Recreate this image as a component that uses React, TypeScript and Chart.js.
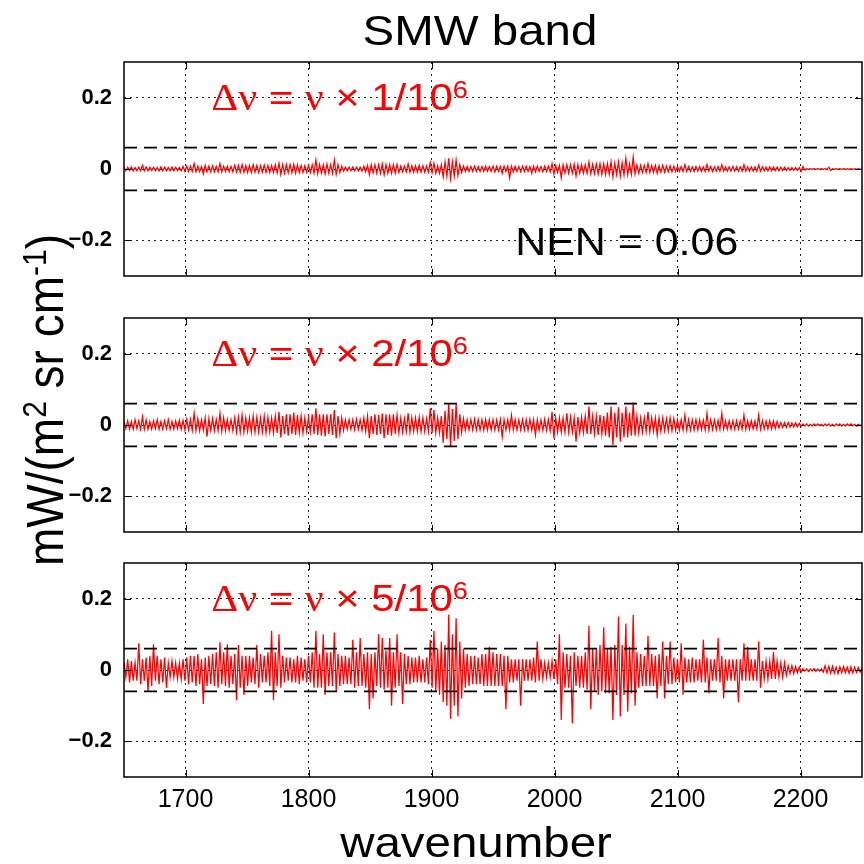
import { useEffect, useRef } from 'react';
import { Chart, registerables } from 'chart.js';
Chart.register(...registerables);

// ---------- data ----------
// sampling grid A (cm-1)
const WAVENUMBER = [
  1650, 1653, 1656, 1659, 1662, 1665, 1668, 1671, 1674, 1677,
  1680, 1683, 1686, 1689, 1692, 1695, 1698, 1701, 1704, 1707,
  1710, 1713, 1716, 1719, 1722, 1725, 1728, 1731, 1734, 1737,
  1740, 1743, 1746, 1749, 1752, 1755, 1758, 1761, 1764, 1767,
  1770, 1773, 1776, 1779, 1782, 1785, 1788, 1791, 1794, 1797,
  1800, 1803, 1806, 1809, 1812, 1815, 1818, 1821, 1824, 1827,
  1830, 1833, 1836, 1839, 1842, 1845, 1848, 1851, 1854, 1857,
  1860, 1863, 1866, 1869, 1872, 1875, 1878, 1881, 1884, 1887,
  1890, 1893, 1896, 1899, 1902, 1905, 1908, 1911, 1914, 1917,
  1920, 1923, 1926, 1929, 1932, 1935, 1938, 1941, 1944, 1947,
  1950, 1953, 1956, 1959, 1962, 1965, 1968, 1971, 1974, 1977,
  1980, 1983, 1986, 1989, 1992, 1995, 1998, 2001, 2004, 2007,
  2010, 2013, 2016, 2019, 2022, 2025, 2028, 2031, 2034, 2037,
  2040, 2043, 2046, 2049, 2052, 2055, 2058, 2061, 2064, 2067,
  2070, 2073, 2076, 2079, 2082, 2085, 2088, 2091, 2094, 2097,
  2100, 2103, 2106, 2109, 2112, 2115, 2118, 2121, 2124, 2127,
  2130, 2133, 2136, 2139, 2142, 2145, 2148, 2151, 2154, 2157,
  2160, 2163, 2166, 2169, 2172, 2175, 2178, 2181, 2184, 2187,
  2190, 2193, 2196, 2199, 2202, 2205, 2208, 2211, 2214, 2217,
  2220, 2223, 2226, 2229, 2232, 2235, 2238, 2241, 2244, 2247,
  2250,
];

// sampling grid B (cm-1), interleaved with grid A
const WAVENUMBER_MID = [
  1651.5, 1654.5, 1657.5, 1660.5, 1663.5, 1666.5, 1669.5, 1672.5, 1675.5, 1678.5,
  1681.5, 1684.5, 1687.5, 1690.5, 1693.5, 1696.5, 1699.5, 1702.5, 1705.5, 1708.5,
  1711.5, 1714.5, 1717.5, 1720.5, 1723.5, 1726.5, 1729.5, 1732.5, 1735.5, 1738.5,
  1741.5, 1744.5, 1747.5, 1750.5, 1753.5, 1756.5, 1759.5, 1762.5, 1765.5, 1768.5,
  1771.5, 1774.5, 1777.5, 1780.5, 1783.5, 1786.5, 1789.5, 1792.5, 1795.5, 1798.5,
  1801.5, 1804.5, 1807.5, 1810.5, 1813.5, 1816.5, 1819.5, 1822.5, 1825.5, 1828.5,
  1831.5, 1834.5, 1837.5, 1840.5, 1843.5, 1846.5, 1849.5, 1852.5, 1855.5, 1858.5,
  1861.5, 1864.5, 1867.5, 1870.5, 1873.5, 1876.5, 1879.5, 1882.5, 1885.5, 1888.5,
  1891.5, 1894.5, 1897.5, 1900.5, 1903.5, 1906.5, 1909.5, 1912.5, 1915.5, 1918.5,
  1921.5, 1924.5, 1927.5, 1930.5, 1933.5, 1936.5, 1939.5, 1942.5, 1945.5, 1948.5,
  1951.5, 1954.5, 1957.5, 1960.5, 1963.5, 1966.5, 1969.5, 1972.5, 1975.5, 1978.5,
  1981.5, 1984.5, 1987.5, 1990.5, 1993.5, 1996.5, 1999.5, 2002.5, 2005.5, 2008.5,
  2011.5, 2014.5, 2017.5, 2020.5, 2023.5, 2026.5, 2029.5, 2032.5, 2035.5, 2038.5,
  2041.5, 2044.5, 2047.5, 2050.5, 2053.5, 2056.5, 2059.5, 2062.5, 2065.5, 2068.5,
  2071.5, 2074.5, 2077.5, 2080.5, 2083.5, 2086.5, 2089.5, 2092.5, 2095.5, 2098.5,
  2101.5, 2104.5, 2107.5, 2110.5, 2113.5, 2116.5, 2119.5, 2122.5, 2125.5, 2128.5,
  2131.5, 2134.5, 2137.5, 2140.5, 2143.5, 2146.5, 2149.5, 2152.5, 2155.5, 2158.5,
  2161.5, 2164.5, 2167.5, 2170.5, 2173.5, 2176.5, 2179.5, 2182.5, 2185.5, 2188.5,
  2191.5, 2194.5, 2197.5, 2200.5, 2203.5, 2206.5, 2209.5, 2212.5, 2215.5, 2218.5,
  2221.5, 2224.5, 2227.5, 2230.5, 2233.5, 2236.5, 2239.5, 2242.5, 2245.5, 2248.5,
];

// Δν = ν × 1/10^6  (grid A, grid B)
const NOISE_1 = [
  0.004, 0.005, 0.006, 0.004, 0.005, 0.01, 0.006, 0.005, 0.005, 0.004,
  0.006, 0.005, 0.004, 0.006, 0.005, 0.004, 0.007, 0.008, 0.008, 0.015,
  0.008, 0.007, 0.01, 0.008, 0.009, 0.007, 0.015, 0.008, 0.008, 0.007,
  0.01, 0.01, 0.012, 0.01, 0.01, 0.012, 0.01, 0.009, 0.011, 0.01,
  0.01, 0.012, 0.016, 0.012, 0.012, 0.012, 0.013, 0.012, 0.01, 0.009,
  0.01, 0.012, 0.025, 0.013, 0.012, 0.014, 0.012, 0.025, 0.012, 0.008,
  0.005, 0.005, 0.006, 0.005, 0.005, 0.008, 0.01, 0.012, 0.012, 0.012,
  0.014, 0.012, 0.012, 0.012, 0.013, 0.008, 0.008, 0.014, 0.009, 0.009,
  0.01, 0.009, 0.008, 0.018, 0.016, 0.009, 0.012, 0.02, 0.03, 0.02,
  0.025, 0.012, 0.008, 0.007, 0.007, 0.008, 0.007, 0.007, 0.008, 0.007,
  0.008, 0.008, 0.007, 0.008, 0.008, 0.008, 0.008, 0.007, 0.008, 0.008,
  0.007, 0.008, 0.008, 0.007, 0.008, 0.008, 0.015, 0.01, 0.01, 0.012,
  0.012, 0.012, 0.013, 0.012, 0.012, 0.012, 0.02, 0.013, 0.014, 0.015,
  0.015, 0.016, 0.02, 0.016, 0.02, 0.017, 0.03, 0.015, 0.034, 0.011,
  0.01, 0.01, 0.015, 0.01, 0.01, 0.009, 0.01, 0.008, 0.009, 0.008,
  0.007, 0.007, 0.012, 0.007, 0.006, 0.007, 0.007, 0.006, 0.013, 0.007,
  0.006, 0.007, 0.012, 0.006, 0.006, 0.007, 0.006, 0.006, 0.012, 0.006,
  0.006, 0.006, 0.011, 0.006, 0.005, 0.006, 0.006, 0.005, 0.005, 0.005,
  0.004, 0.004, 0.004, 0.004, 0.007, 0.001, 0.001, 0.001, 0.001, 0.001,
  0.001, 0.005, 0.001, 0.001, 0.001, 0.001, 0.001, 0.001, 0.001, 0.001,
  0,
];
const NOISE_1_MID = [
  -0.005, -0.004, -0.005, -0.005, -0.005, -0.005, -0.005, -0.004, -0.005, -0.005,
  -0.005, -0.005, -0.005, -0.005, -0.004, -0.005, -0.006, -0.007, -0.007, -0.008,
  -0.008, -0.014, -0.008, -0.008, -0.008, -0.008, -0.008, -0.007, -0.008, -0.008,
  -0.009, -0.009, -0.009, -0.01, -0.01, -0.009, -0.01, -0.009, -0.01, -0.01,
  -0.01, -0.011, -0.015, -0.012, -0.011, -0.011, -0.012, -0.01, -0.01, -0.009,
  -0.01, -0.012, -0.013, -0.012, -0.014, -0.012, -0.012, -0.015, -0.01, -0.006,
  -0.005, -0.005, -0.005, -0.005, -0.006, -0.008, -0.016, -0.011, -0.012, -0.012,
  -0.016, -0.012, -0.012, -0.012, -0.01, -0.008, -0.008, -0.009, -0.009, -0.009,
  -0.009, -0.009, -0.009, -0.01, -0.012, -0.012, -0.022, -0.02, -0.026, -0.02,
  -0.018, -0.01, -0.007, -0.007, -0.007, -0.007, -0.007, -0.007, -0.007, -0.007,
  -0.008, -0.007, -0.012, -0.007, -0.025, -0.008, -0.007, -0.008, -0.007, -0.007,
  -0.012, -0.008, -0.007, -0.008, -0.007, -0.008, -0.014, -0.01, -0.025, -0.011,
  -0.012, -0.012, -0.02, -0.012, -0.012, -0.012, -0.013, -0.013, -0.014, -0.015,
  -0.016, -0.015, -0.022, -0.016, -0.02, -0.017, -0.016, -0.015, -0.014, -0.012,
  -0.01, -0.01, -0.01, -0.01, -0.012, -0.009, -0.009, -0.008, -0.008, -0.007,
  -0.007, -0.007, -0.007, -0.007, -0.007, -0.006, -0.007, -0.007, -0.006, -0.007,
  -0.006, -0.006, -0.006, -0.006, -0.006, -0.006, -0.006, -0.006, -0.006, -0.006,
  -0.006, -0.006, -0.006, -0.005, -0.005, -0.005, -0.005, -0.005, -0.004, -0.004,
  -0.004, -0.004, -0.004, -0.007, -0.003, -0.001, -0.001, -0.001, -0.001, -0.001,
  -0.001, -0.004, -0.001, -0.001, -0.001, -0.001, -0.001, -0.001, -0.001, -0.001,
];

// Δν = ν × 2/10^6  (grid A, grid B)
const NOISE_2 = [
  0.01, 0.012, 0.01, 0.015, 0.012, 0.023, 0.014, 0.01, 0.012, 0.015,
  0.01, 0.012, 0.015, 0.01, 0.012, 0.014, 0.013, 0.015, 0.016, 0.033,
  0.018, 0.015, 0.02, 0.018, 0.018, 0.015, 0.033, 0.02, 0.016, 0.015,
  0.02, 0.022, 0.028, 0.02, 0.02, 0.025, 0.022, 0.02, 0.025, 0.022,
  0.02, 0.025, 0.037, 0.025, 0.03, 0.03, 0.035, 0.028, 0.025, 0.02,
  0.02, 0.03, 0.047, 0.03, 0.03, 0.03, 0.03, 0.042, 0.025, 0.02,
  0.015, 0.015, 0.015, 0.016, 0.015, 0.02, 0.025, 0.025, 0.03, 0.028,
  0.032, 0.03, 0.03, 0.03, 0.028, 0.02, 0.018, 0.033, 0.02, 0.02,
  0.022, 0.02, 0.018, 0.047, 0.042, 0.02, 0.025, 0.04, 0.06, 0.045,
  0.058, 0.03, 0.018, 0.015, 0.015, 0.016, 0.015, 0.015, 0.016, 0.015,
  0.015, 0.014, 0.015, 0.015, 0.015, 0.028, 0.015, 0.014, 0.015, 0.015,
  0.016, 0.015, 0.015, 0.014, 0.016, 0.015, 0.037, 0.02, 0.02, 0.02,
  0.033, 0.022, 0.02, 0.022, 0.022, 0.025, 0.052, 0.025, 0.025, 0.028,
  0.025, 0.035, 0.052, 0.035, 0.05, 0.035, 0.052, 0.035, 0.064, 0.025,
  0.02, 0.02, 0.037, 0.02, 0.02, 0.02, 0.02, 0.018, 0.02, 0.018,
  0.015, 0.015, 0.028, 0.015, 0.014, 0.015, 0.015, 0.014, 0.033, 0.015,
  0.014, 0.013, 0.033, 0.012, 0.012, 0.012, 0.012, 0.011, 0.028, 0.012,
  0.012, 0.011, 0.028, 0.012, 0.011, 0.012, 0.012, 0.01, 0.007, 0.007,
  0.007, 0.006, 0.006, 0.005, 0.003, 0.003, 0.002, 0.003, 0.003, 0.002,
  0.003, 0.003, 0.002, 0.003, 0.003, 0.002, 0.003, 0.003, 0.002, 0.002,
  0.002,
];
const NOISE_2_MID = [
  -0.01, -0.012, -0.012, -0.01, -0.012, -0.012, -0.012, -0.012, -0.01, -0.012,
  -0.012, -0.01, -0.012, -0.012, -0.01, -0.012, -0.014, -0.014, -0.015, -0.016,
  -0.016, -0.015, -0.033, -0.015, -0.016, -0.016, -0.018, -0.016, -0.015, -0.016,
  -0.02, -0.02, -0.02, -0.018, -0.02, -0.02, -0.02, -0.02, -0.022, -0.02,
  -0.022, -0.022, -0.035, -0.025, -0.03, -0.025, -0.028, -0.022, -0.022, -0.018,
  -0.02, -0.025, -0.028, -0.03, -0.032, -0.025, -0.028, -0.037, -0.025, -0.015,
  -0.012, -0.012, -0.013, -0.012, -0.015, -0.018, -0.037, -0.025, -0.028, -0.025,
  -0.037, -0.028, -0.03, -0.025, -0.022, -0.02, -0.018, -0.02, -0.018, -0.018,
  -0.018, -0.018, -0.018, -0.022, -0.022, -0.022, -0.05, -0.04, -0.06, -0.045,
  -0.04, -0.02, -0.015, -0.014, -0.014, -0.014, -0.014, -0.015, -0.014, -0.014,
  -0.014, -0.014, -0.033, -0.014, -0.014, -0.014, -0.014, -0.014, -0.014, -0.015,
  -0.015, -0.028, -0.015, -0.015, -0.015, -0.016, -0.037, -0.02, -0.02, -0.02,
  -0.02, -0.02, -0.047, -0.022, -0.022, -0.025, -0.025, -0.025, -0.028, -0.025,
  -0.03, -0.035, -0.056, -0.035, -0.047, -0.035, -0.035, -0.03, -0.03, -0.022,
  -0.02, -0.018, -0.02, -0.018, -0.028, -0.018, -0.016, -0.016, -0.016, -0.015,
  -0.015, -0.014, -0.014, -0.014, -0.014, -0.014, -0.013, -0.014, -0.014, -0.013,
  -0.013, -0.012, -0.012, -0.012, -0.012, -0.012, -0.011, -0.012, -0.012, -0.012,
  -0.011, -0.011, -0.012, -0.011, -0.011, -0.011, -0.01, -0.008, -0.007, -0.007,
  -0.006, -0.006, -0.005, -0.004, -0.003, -0.003, -0.003, -0.002, -0.002, -0.003,
  -0.002, -0.003, -0.003, -0.002, -0.003, -0.003, -0.002, -0.002, -0.003, -0.002,
];

// Δν = ν × 5/10^6  (grid A, grid B)
const NOISE_5 = [
  0.02, 0.03, 0.025, 0.02, 0.075, 0.03, 0.035, 0.04, 0.072, 0.04,
  0.03, 0.035, 0.02, 0.025, 0.02, 0.02, 0.03, 0.035, 0.04, 0.04,
  0.045, 0.03, 0.035, 0.04, 0.045, 0.05, 0.078, 0.05, 0.072, 0.04,
  0.045, 0.07, 0.04, 0.04, 0.04, 0.035, 0.07, 0.045, 0.04, 0.05,
  0.11, 0.05, 0.1, 0.04, 0.035, 0.035, 0.03, 0.04, 0.035, 0.03,
  0.04, 0.05, 0.11, 0.045, 0.1, 0.05, 0.05, 0.105, 0.045, 0.04,
  0.04, 0.035, 0.085, 0.05, 0.09, 0.045, 0.05, 0.045, 0.05, 0.1,
  0.09, 0.055, 0.09, 0.05, 0.1, 0.05, 0.045, 0.04, 0.035, 0.035,
  0.04, 0.03, 0.035, 0.085, 0.11, 0.06, 0.08, 0.07, 0.155, 0.1,
  0.145, 0.08, 0.06, 0.045, 0.04, 0.04, 0.035, 0.045, 0.045, 0.065,
  0.05, 0.045, 0.045, 0.04, 0.04, 0.03, 0.03, 0.03, 0.03, 0.03,
  0.03, 0.035, 0.08, 0.03, 0.02, 0.02, 0.025, 0.03, 0.1, 0.05,
  0.045, 0.04, 0.05, 0.04, 0.04, 0.05, 0.124, 0.06, 0.06, 0.07,
  0.12, 0.06, 0.065, 0.07, 0.15, 0.07, 0.13, 0.065, 0.155, 0.05,
  0.045, 0.04, 0.096, 0.045, 0.04, 0.045, 0.08, 0.04, 0.08, 0.035,
  0.03, 0.075, 0.035, 0.03, 0.035, 0.03, 0.03, 0.085, 0.035, 0.03,
  0.03, 0.09, 0.04, 0.03, 0.03, 0.03, 0.03, 0.03, 0.075, 0.065,
  0.03, 0.03, 0.08, 0.025, 0.025, 0.025, 0.05, 0.025, 0.02, 0.02,
  0.012, 0.012, 0.01, 0.008, 0.004, 0.003, 0.003, 0.004, 0.003, 0.003,
  0.012, 0.01, 0.01, 0.008, 0.009, 0.01, 0.008, 0.009, 0.008, 0.007,
  0.005,
];
const NOISE_5_MID = [
  -0.02, -0.035, -0.03, -0.03, -0.04, -0.03, -0.06, -0.045, -0.03, -0.04,
  -0.035, -0.05, -0.02, -0.02, -0.025, -0.025, -0.03, -0.04, -0.035, -0.045,
  -0.04, -0.095, -0.045, -0.04, -0.045, -0.05, -0.04, -0.045, -0.05, -0.04,
  -0.085, -0.05, -0.07, -0.045, -0.035, -0.04, -0.05, -0.035, -0.035, -0.045,
  -0.085, -0.045, -0.05, -0.035, -0.03, -0.035, -0.035, -0.04, -0.03, -0.035,
  -0.035, -0.05, -0.05, -0.05, -0.07, -0.045, -0.045, -0.06, -0.045, -0.04,
  -0.04, -0.04, -0.05, -0.045, -0.045, -0.05, -0.11, -0.08, -0.045, -0.05,
  -0.055, -0.05, -0.1, -0.05, -0.045, -0.095, -0.04, -0.04, -0.035, -0.035,
  -0.035, -0.035, -0.04, -0.05, -0.06, -0.07, -0.09, -0.1, -0.137, -0.1,
  -0.13, -0.08, -0.05, -0.045, -0.04, -0.04, -0.04, -0.045, -0.045, -0.045,
  -0.045, -0.045, -0.045, -0.11, -0.035, -0.035, -0.03, -0.1, -0.03, -0.03,
  -0.03, -0.035, -0.03, -0.025, -0.02, -0.02, -0.025, -0.04, -0.14, -0.05,
  -0.05, -0.15, -0.045, -0.05, -0.05, -0.055, -0.11, -0.06, -0.07, -0.06,
  -0.065, -0.065, -0.14, -0.07, -0.13, -0.07, -0.117, -0.065, -0.1, -0.05,
  -0.045, -0.045, -0.045, -0.045, -0.08, -0.045, -0.08, -0.04, -0.04, -0.035,
  -0.035, -0.07, -0.035, -0.035, -0.035, -0.03, -0.035, -0.035, -0.065, -0.03,
  -0.03, -0.035, -0.08, -0.03, -0.03, -0.03, -0.09, -0.03, -0.03, -0.03,
  -0.03, -0.03, -0.05, -0.025, -0.025, -0.025, -0.025, -0.02, -0.02, -0.015,
  -0.01, -0.01, -0.008, -0.006, -0.003, -0.004, -0.003, -0.004, -0.003, -0.006,
  -0.008, -0.009, -0.009, -0.01, -0.008, -0.008, -0.009, -0.008, -0.007, -0.006,
];

const PANEL_FACTORS = ['1', '2', '5'];
const NEN = 0.06;
const X_TICKS = [1700, 1800, 1900, 2000, 2100, 2200];
const Y_TICKS = [-0.2, 0, 0.2];
const X_MIN = 1650;
const X_MAX = 2250;
const Y_MIN = -0.3;
const Y_MAX = 0.3;
const TITLE = 'SMW band';
const X_TITLE = 'wavenumber';
const NEN_LABEL = 'NEN = 0.06';
// annotation anchors (data coordinates)
const ANNOT_X = 1721;
const ANNOT_Y = 0.166;
const NEN_X = 1968;
const NEN_Y = -0.24;

// ---------- layout ----------
const SIZE = 864;
const SANS = "'Liberation Sans', Arial, Helvetica, sans-serif";
const SERIF = "'Liberation Serif', 'Times New Roman', serif";
const STRETCH = 1.13;
const PANEL_BOXES = [
  { top: 62, bottom: 276 },
  { top: 318, bottom: 532 },
  { top: 563, bottom: 777 },
];

type Seg = { t: string; sup?: boolean; serif?: boolean };

function fontFor(s: Seg, size: number) {
  const sz = s.sup ? Math.round(size * 0.65) : size;
  return `${sz}px ${s.serif ? SERIF : SANS}`;
}

function drawRich(
  ctx: CanvasRenderingContext2D,
  segs: Seg[],
  x: number,
  y: number,
  size: number,
  color: string,
  align: 'left' | 'center',
  rotate = false
) {
  ctx.save();
  ctx.translate(x, y);
  if (rotate) {
    ctx.rotate(-Math.PI / 2);
    ctx.scale(1, STRETCH);
  } else {
    ctx.scale(STRETCH, 1);
  }
  ctx.fillStyle = color;
  ctx.textBaseline = 'alphabetic';
  ctx.textAlign = 'left';
  const widths = segs.map((s) => {
    ctx.font = fontFor(s, size);
    return ctx.measureText(s.t).width;
  });
  const total = widths.reduce((a, b) => a + b, 0);
  let cx = align === 'center' ? -total / 2 : 0;
  segs.forEach((s, i) => {
    ctx.font = fontFor(s, size);
    ctx.fillText(s.t, cx, s.sup ? -size * 0.32 : 0);
    cx += widths[i];
  });
  ctx.restore();
}

function makeDecor(idx: number) {
  return {
    id: 'decor' + idx,
    afterDraw(chart: any) {
      const { ctx, chartArea: a } = chart;
      const xs = chart.scales.x;
      const ys = chart.scales.y;
      ctx.save();
      ctx.setLineDash([]);
      ctx.strokeStyle = '#000';
      ctx.lineWidth = 1.5;
      ctx.strokeRect(a.left, a.top, a.right - a.left, a.bottom - a.top);
      ctx.lineWidth = 1;
      ctx.beginPath();
      X_TICKS.forEach((v) => {
        const px = Math.round(xs.getPixelForValue(v)) + 0.5;
        ctx.moveTo(px, a.bottom);
        ctx.lineTo(px, a.bottom - 7);
        ctx.moveTo(px, a.top);
        ctx.lineTo(px, a.top + 7);
      });
      Y_TICKS.forEach((v) => {
        const py = Math.round(ys.getPixelForValue(v)) + 0.5;
        ctx.moveTo(a.left, py);
        ctx.lineTo(a.left + 7, py);
        ctx.moveTo(a.right, py);
        ctx.lineTo(a.right - 7, py);
      });
      ctx.stroke();
      ctx.restore();

      drawRich(
        ctx,
        [
          { t: 'Δν', serif: true },
          { t: ' = ' },
          { t: 'ν', serif: true },
          { t: ' × ' + PANEL_FACTORS[idx] + '/10' },
          { t: '6', sup: true },
        ],
        xs.getPixelForValue(ANNOT_X),
        ys.getPixelForValue(ANNOT_Y),
        37,
        '#ff0000',
        'left'
      );

      if (idx === 0) {
        drawRich(ctx, [{ t: NEN_LABEL }], xs.getPixelForValue(NEN_X), ys.getPixelForValue(NEN_Y), 38, '#000', 'left');
        drawRich(ctx, [{ t: TITLE }], 480, 45, 42, '#000', 'center');
      }
      if (idx === 1) {
        drawRich(
          ctx,
          [{ t: 'mW/(m' }, { t: '2', sup: true }, { t: ' sr cm' }, { t: '-1', sup: true }, { t: ')' }],
          63,
          400,
          46,
          '#000',
          'center',
          true
        );
      }
      if (idx === 2) {
        drawRich(ctx, [{ t: X_TITLE }], 476, 857, 42, '#000', 'center');
      }
    },
  };
}

function buildChart(canvas: HTMLCanvasElement, idx: number) {
  const noise = [NOISE_1, NOISE_2, NOISE_5][idx];
  const noiseMid = [NOISE_1_MID, NOISE_2_MID, NOISE_5_MID][idx];
  const box = PANEL_BOXES[idx];
  const showX = idx === 2;
  const xh = showX ? 40 : 0;
  const pts = [
    ...WAVENUMBER.map((x, i) => ({ x, y: noise[i] })),
    ...WAVENUMBER_MID.map((x, i) => ({ x, y: noiseMid[i] })),
  ].sort((p, q) => p.x - q.x);
  const dash = [13, 7];
  return new Chart(canvas, {
    type: 'line',
    data: {
      datasets: [
        {
          data: [{ x: X_MIN, y: NEN }, { x: X_MAX, y: NEN }],
          borderColor: '#000',
          borderWidth: 1.6,
          borderDash: dash,
          pointRadius: 0,
        },
        {
          data: [{ x: X_MIN, y: -NEN }, { x: X_MAX, y: -NEN }],
          borderColor: '#000',
          borderWidth: 1.6,
          borderDash: dash,
          pointRadius: 0,
        },
        {
          data: pts,
          borderColor: '#ff0000',
          borderWidth: 1.25,
          pointRadius: 0,
          tension: 0,
        },
      ],
    },
    options: {
      responsive: false,
      animation: false,
      events: [],
      layout: {
        padding: { top: box.top, left: 0, right: 2, bottom: SIZE - box.bottom - xh },
      },
      plugins: { legend: { display: false }, tooltip: { enabled: false }, title: { display: false } },
      scales: {
        x: {
          type: 'linear',
          min: X_MIN,
          max: X_MAX,
          afterBuildTicks: (s: any) => {
            s.ticks = X_TICKS.map((v) => ({ value: v }));
          },
          afterFit: (s: any) => {
            s.height = xh;
          },
          grid: { color: '#222', lineWidth: 1, drawTicks: false, borderDash: [2, 4] } as any,
          border: { display: false, dash: [2, 4] },
          ticks: {
            display: showX,
            autoSkip: false,
            maxRotation: 0,
            padding: 8,
            color: '#000',
            font: { family: SANS, size: 25 },
            callback: (v: any) => String(v),
          },
        },
        y: {
          type: 'linear',
          min: Y_MIN,
          max: Y_MAX,
          afterBuildTicks: (s: any) => {
            s.ticks = Y_TICKS.map((v) => ({ value: v }));
          },
          afterFit: (s: any) => {
            s.width = 124;
          },
          grid: { color: '#222', lineWidth: 1, drawTicks: false, borderDash: [2, 4] } as any,
          border: { display: false, dash: [2, 4] },
          ticks: {
            padding: 12,
            color: '#000',
            font: { family: SANS, size: 22, weight: 'bold' },
            callback: (v: any) => (v === 0 ? '0' : (v < 0 ? '−' : '') + Math.abs(v).toFixed(1)),
          },
        },
      },
    },
    plugins: [makeDecor(idx)],
  } as any);
}

export default function App() {
  const r0 = useRef<HTMLCanvasElement>(null);
  const r1 = useRef<HTMLCanvasElement>(null);
  const r2 = useRef<HTMLCanvasElement>(null);

  useEffect(() => {
    const refs = [r0, r1, r2];
    const charts = refs.map((r, i) => buildChart(r.current as HTMLCanvasElement, i));
    return () => charts.forEach((c) => c.destroy());
  }, []);

  const style: any = { position: 'absolute', left: 0, top: 0, width: SIZE, height: SIZE, display: 'block' };
  return (
    <div style={{ position: 'absolute', left: 0, top: 0, width: SIZE, height: SIZE, background: '#fff' }}>
      <canvas ref={r0} width={SIZE} height={SIZE} style={style} />
      <canvas ref={r1} width={SIZE} height={SIZE} style={style} />
      <canvas ref={r2} width={SIZE} height={SIZE} style={style} />
    </div>
  );
}
